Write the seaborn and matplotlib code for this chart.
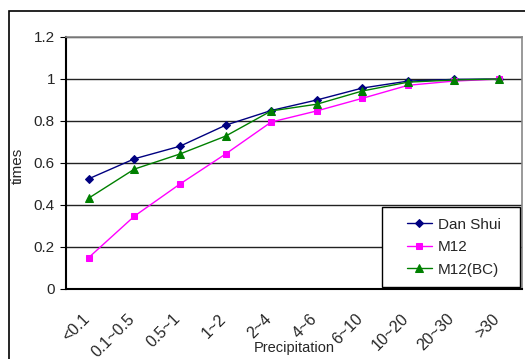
import numpy as np
import pandas as pd
import seaborn as sns
from matplotlib import pyplot as plt
from matplotlib.patches import Rectangle, Shadow
from matplotlib.transforms import ScaledTranslation

categories = ["<0.1", "0.1~0.5", "0.5~1", "1~2", "2~4", "4~6", "6~10", "10~20", "20~30", ">30"]
dan_shui = [0.525, 0.62, 0.68, 0.78, 0.85, 0.90, 0.957, 0.99, 0.998, 1.0]
m12 = [0.15, 0.347, 0.50, 0.643, 0.795, 0.848, 0.908, 0.97, 0.99, 1.0]
m12_bc = [0.433, 0.571, 0.643, 0.728, 0.848, 0.88, 0.943, 0.985, 0.995, 1.0]
series_names = ["Dan Shui", "M12", "M12(BC)"]

# long-form table, one row per point
data = pd.concat(
    [
        pd.DataFrame({"pos": np.arange(len(categories)), "times": vals, "series": name})
        for name, vals in zip(series_names, [dan_shui, m12, m12_bc])
    ],
    ignore_index=True,
)

sns.set_style("white")
plt.rcParams["font.family"] = ["Liberation Sans", "DejaVu Sans"]

fig = plt.figure(figsize=(5.25, 3.59), dpi=100)
ax = fig.add_axes([66 / 525, 1 - 289 / 359, 456 / 525, 252 / 359])

palette = {"Dan Shui": "#000080", "M12": "#FF00FF", "M12(BC)": "#008000"}
markers = {"Dan Shui": "D", "M12": "s", "M12(BC)": "^"}
sizes = {"Dan Shui": 4, "M12": 5, "M12(BC)": 6}

for name in series_names:
    sns.lineplot(
        data=data[data["series"] == name],
        x="pos",
        y="times",
        ax=ax,
        color=palette[name],
        marker=markers[name],
        markersize=sizes[name],
        markeredgecolor=palette[name],
        linewidth=1,
        label=name,
    )

ax.set_xlim(-0.5, len(categories) - 0.5)
ax.set_ylim(0, 1.2)
ax.set_yticks(np.arange(0, 1.21, 0.2))
ax.set_yticklabels(["0", "0.2", "0.4", "0.6", "0.8", "1", "1.2"], fontsize=11)
ax.yaxis.grid(True, color="#222222", linewidth=1)
ax.xaxis.grid(False)
ax.set_axisbelow(True)

# category labels at the centres, tick marks at the boundaries
ax.set_xticks(np.arange(len(categories)))
ax.set_xticklabels(categories, rotation=45, ha="right", rotation_mode="anchor", fontsize=11.5)
ax.tick_params(axis="x", which="major", length=0, pad=16)
shift = ScaledTranslation(-7 / 100, 0, fig.dpi_scale_trans)
for lbl in ax.get_xticklabels():
    lbl.set_transform(lbl.get_transform() + shift)
ax.set_xticks(np.arange(len(categories) + 1) - 0.5, minor=True)
ax.tick_params(axis="x", which="minor", direction="in", length=5, color="black", width=1)
ax.tick_params(axis="y", length=4, direction="out", color="black", left=True, pad=4)

for side in ["left", "bottom"]:
    ax.spines[side].set_color("black")
    ax.spines[side].set_linewidth(1.5)
for side in ["top", "right"]:
    ax.spines[side].set_color("#888888")
    ax.spines[side].set_linewidth(1.2)

ax.set_xlabel("Precipitation", fontsize=10.5)
ax.xaxis.set_label_coords(0.501, -0.205)
ax.set_ylabel("times", fontsize=11)
ax.yaxis.set_label_coords(-0.09, 0.488)

# legend box with shadow, entries placed inside without their own frame
box = Rectangle((0.693, 0.008), 0.303, 0.317, transform=ax.transAxes,
                facecolor="white", edgecolor="black", linewidth=1, zorder=5)
shadow = Shadow(box, 2, -2)
shadow.set_zorder(4.9)
shadow.set_facecolor("#777777")
shadow.set_alpha(0.6)
ax.add_patch(shadow)
ax.add_patch(box)

leg = ax.legend(
    loc="center left",
    bbox_to_anchor=(0.748, 0.166),
    frameon=False,
    fontsize=11,
    handlelength=1.6,
    handletextpad=0.4,
    borderpad=0,
    borderaxespad=0,
    labelspacing=0.55,
)
leg.set_zorder(6)

# outer chart border
fig.patches.append(
    Rectangle((9 / 525, -0.2), 1.2, 1.2 - 11 / 359, transform=fig.transFigure,
              fill=False, edgecolor="black", linewidth=1.2)
)

fig.savefig("out.png", dpi=100)
